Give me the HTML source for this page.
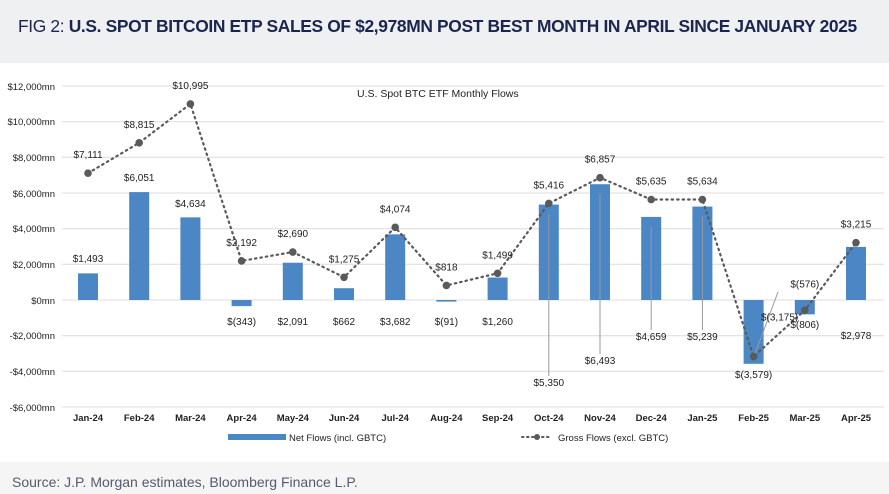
<!DOCTYPE html>
<html><head><meta charset="utf-8"><style>
body{margin:0;width:889px;height:494px;overflow:hidden;background:#fff;font-family:"Liberation Sans",sans-serif}
.hdr{position:absolute;left:0;top:0;width:889px;height:63px;background:#eff0f1}
.hdr div{position:absolute;left:18px;top:16px;font-size:17.4px;color:#1b2550;letter-spacing:-0.35px;white-space:nowrap}
.ftr{position:absolute;left:0;top:462px;width:889px;height:32px;background:#f5f5f5}
.ftr div{position:absolute;left:12px;top:12px;font-size:14px;color:#555a6e}
svg{position:absolute;left:0;top:63px}
</style></head><body>
<div class="hdr"><div>FIG 2: <b>U.S. SPOT BITCOIN ETP SALES OF $2,978MN POST BEST MONTH IN APRIL SINCE JANUARY 2025</b></div></div>
<svg width="889" height="399" viewBox="0 63 889 399" font-family="Liberation Sans, sans-serif">
<g stroke="#dcdcdc" stroke-width="1">
<line x1="62" x2="884" y1="86" y2="86"/><line x1="62" x2="884" y1="121.7" y2="121.7"/><line x1="62" x2="884" y1="157.3" y2="157.3"/><line x1="62" x2="884" y1="193" y2="193"/><line x1="62" x2="884" y1="228.7" y2="228.7"/><line x1="62" x2="884" y1="264.3" y2="264.3"/><line x1="62" x2="884" y1="300" y2="300"/><line x1="62" x2="884" y1="335.7" y2="335.7"/><line x1="62" x2="884" y1="371.3" y2="371.3"/><line x1="62" x2="884" y1="407" y2="407"/>
</g>
<g font-size="9.5" fill="#222" text-anchor="end">
<text x="55" y="90">$12,000mn</text><text x="55" y="125">$10,000mn</text><text x="55" y="161">$8,000mn</text><text x="55" y="197">$6,000mn</text><text x="55" y="232">$4,000mn</text><text x="55" y="268">$2,000mn</text><text x="55" y="304">$0mn</text><text x="55" y="339">-$2,000mn</text><text x="55" y="375">-$4,000mn</text><text x="55" y="411">-$6,000mn</text>
</g>
<text x="357" y="97" font-size="10.5" fill="#222">U.S. Spot BTC ETF Monthly Flows</text>
<g fill="#4a87c4" id="bars"></g>
<g stroke="#999" stroke-width="1" id="leaders"></g>
<polyline id="line" fill="none" stroke="#5a5a5a" stroke-width="2.2" stroke-dasharray="1.5,4" stroke-linecap="round"/>
<g fill="#5a5a5a" id="dots"></g>
<g font-size="10" fill="#222" text-anchor="middle" id="lbl"></g>
<g font-size="9.5" font-weight="bold" fill="#222" text-anchor="middle" id="xl"></g>
<rect x="228" y="434" width="58" height="6" fill="#4a87c4"/>
<text x="289" y="441" font-size="9.5" fill="#222">Net Flows (incl. GBTC)</text>
<line x1="522" x2="552" y1="437" y2="437" stroke="#5a5a5a" stroke-width="2" stroke-dasharray="1.5,3.5" stroke-linecap="round"/>
<circle cx="537" cy="437" r="3" fill="#5a5a5a"/>
<text x="558" y="441" font-size="9.5" fill="#222">Gross Flows (excl. GBTC)</text>
</svg>
<div class="ftr"><div>Source: J.P. Morgan estimates, Bloomberg Finance L.P.</div></div>
<script>
var ns="http://www.w3.org/2000/svg";
var m=["Jan-24","Feb-24","Mar-24","Apr-24","May-24","Jun-24","Jul-24","Aug-24","Sep-24","Oct-24","Nov-24","Dec-24","Jan-25","Feb-25","Mar-25","Apr-25"];
var net=[1493,6051,4634,-343,2091,662,3682,-91,1260,5350,6493,4659,5239,-3579,-806,2978];
var gr=[7111,8815,10995,2192,2690,1275,4074,818,1499,5416,6857,5635,5634,-3175,-576,3215];
var nl=[262,181,207,325,325,325,325,325,325,386,364,340,340,378,328,339];
var glx=[0,0,0,0,0,0,0,0,0,0,0,0,0,26,0,0];
var gly=[-15,-15,-15,-15,-15,-15,-15,-15,-15,-15,-15,-15,-15,-36,-23,-15];
function y(v){return 300-v*0.017833;}
function el(t,a,p){var e=document.createElementNS(ns,t);for(var k in a)e.setAttribute(k,a[k]);document.getElementById(p).appendChild(e);return e;}
function f(v){var s="$"+Math.abs(v).toLocaleString("en-US");return v<0?"$("+Math.abs(v).toLocaleString("en-US")+")":s;}
var pts=[];
for(var i=0;i<16;i++){
 var x=88+i*51.2;
 var y0=y(0),y1=y(net[i]);
 el("rect",{x:x-10,y:Math.min(y0,y1),width:20,height:Math.abs(y1-y0)},"bars");
 var gy=y(gr[i]);pts.push(x+","+gy);
 el("circle",{cx:x,cy:gy,r:3.8},"dots");
 var t=el("text",{x:x,y:nl[i]},"lbl");t.textContent=f(net[i]);
 if(i>=9&&i<=12)el("line",{x1:x,x2:x,y1:y1<y0?y1+10:y1,y2:nl[i]-10},"leaders");
 var t2=el("text",{x:x+glx[i],y:gy+gly[i]},"lbl");t2.textContent=f(gr[i]);
 var t3=el("text",{x:x,y:421},"xl");t3.textContent=m[i];
}
el("line",{x1:754,y1:y(-3175),x2:778,y2:292},"leaders");
document.getElementById("line").setAttribute("points",pts.join(" "));
</script>
</body></html>
